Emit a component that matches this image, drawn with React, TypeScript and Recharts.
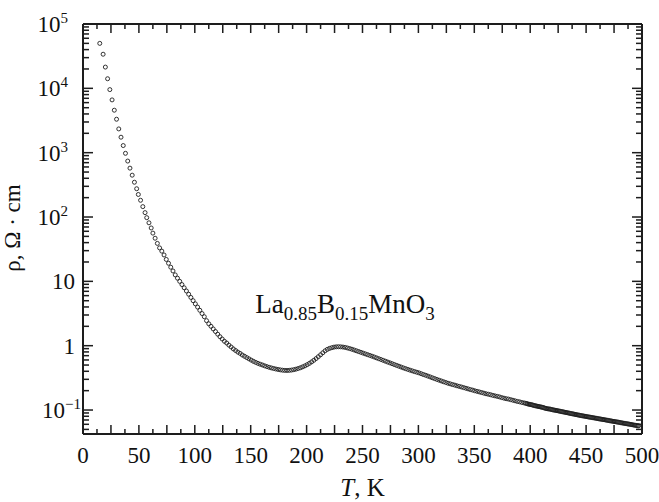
import React from 'react';
import { ScatterChart, Scatter, XAxis, YAxis, ReferenceDot } from 'recharts';

// resistivity of La0.85B0.15MnO3 (T in K, rho in Ohm*cm)
const T_COLD = [15, 18, 20, 22, 24, 26, 28, 30, 32, 34, 36, 38, 40, 42, 44, 46, 48, 49.5, 51.5, 53.5, 55.5, 57, 59, 61, 62.5, 64.5, 66.5, 68.5, 70.5, 72.5, 74.5, 76.5, 78.5, 80.5, 82.5, 84.5, 86.5, 88.5, 90.5, 92.5, 94.5, 96.5, 98.5];
const RHO_COLD = [50000, 33900, 21400, 14100, 9550, 6610, 4570, 3310, 2340, 1740, 1290, 977, 741, 575, 447, 347, 275, 224, 182, 145, 117, 97.7, 81.3, 67.6, 56.2, 46.8, 38.9, 33.1, 29.5, 25.7, 21.9, 19.1, 16.6, 14.5, 12.6, 11.2, 10.0, 8.91, 7.94, 7.08, 6.31, 5.62, 5.01];

const T_TRANS = [100.5, 102.5, 104.5, 106.5, 108.5, 110.5, 112.5, 114.5, 116.5, 118.5, 120.5, 122.5, 124.5, 126.5, 128.5, 130.5, 132.5, 134.5, 136.5, 138.5, 140.5, 142.5, 144.5, 146.5, 148.5, 150.5, 152.5, 154.5, 156.5, 158.5, 160.5, 162.5, 164.5, 166.5, 168.5, 170.5, 172.5, 174.5, 176.5, 178.5, 180.5, 182.5, 184.5, 186.5, 188.5, 190.5, 192.5, 194.5, 196.5, 198.5, 200.5, 202.5, 204.5, 206.5, 208.5, 210.5, 212.5, 214.5, 216.5, 218.5, 220.5, 222.5, 224.5, 226.5, 228.5, 230.5, 232.5, 234.5, 236.5, 238.5, 240.5, 242.5, 244.5, 246.5, 248.5, 250.5, 252.5, 254.5, 256.5, 258.5, 260.5, 262.5, 264.5, 266.5, 268.5, 270.5, 272.5, 274.5, 276.5, 278.5, 280.5, 282.5, 284.5, 286.5, 288.5, 290.5, 292.5, 294.5, 296.5, 298.5];
const RHO_TRANS = [4.47, 3.98, 3.55, 3.16, 2.82, 2.45, 2.19, 2.00, 1.82, 1.66, 1.51, 1.38, 1.27, 1.17, 1.10, 1.02, 0.955, 0.891, 0.841, 0.794, 0.759, 0.716, 0.684, 0.653, 0.624, 0.596, 0.571, 0.550, 0.531, 0.515, 0.501, 0.486, 0.473, 0.461, 0.451, 0.442, 0.434, 0.427, 0.421, 0.416, 0.413, 0.412, 0.414, 0.418, 0.424, 0.432, 0.442, 0.454, 0.469, 0.486, 0.507, 0.531, 0.560, 0.593, 0.631, 0.675, 0.723, 0.776, 0.832, 0.876, 0.908, 0.930, 0.950, 0.960, 0.963, 0.960, 0.952, 0.940, 0.922, 0.902, 0.881, 0.857, 0.834, 0.811, 0.789, 0.767, 0.746, 0.726, 0.706, 0.687, 0.667, 0.647, 0.628, 0.610, 0.592, 0.574, 0.557, 0.541, 0.525, 0.509, 0.494, 0.480, 0.466, 0.452, 0.440, 0.428, 0.417, 0.406, 0.396, 0.387];

const T_WARM = [300.5, 302.5, 304.5, 306.5, 308.5, 310.5, 312.5, 314.5, 316.5, 318.5, 320.5, 322.5, 324.5, 326.5, 328.5, 330.5, 332.5, 334.5, 336.5, 338.5, 340.5, 342.5, 344.5, 346.5, 348.5, 350.5, 352.5, 354.5, 356.5, 358.5, 360.5, 362.5, 364.5, 366.5, 368.5, 370.5, 372.5, 374.5, 376.5, 378.5, 380.5, 382.5, 384.5, 386.5, 388.5, 390.5, 392.5, 394.5];
const RHO_WARM = [0.378, 0.367, 0.356, 0.347, 0.337, 0.327, 0.317, 0.308, 0.299, 0.291, 0.283, 0.275, 0.268, 0.261, 0.255, 0.249, 0.244, 0.238, 0.233, 0.228, 0.223, 0.218, 0.213, 0.208, 0.204, 0.199, 0.195, 0.191, 0.187, 0.183, 0.179, 0.176, 0.173, 0.169, 0.166, 0.163, 0.160, 0.156, 0.153, 0.150, 0.148, 0.145, 0.142, 0.139, 0.136, 0.134, 0.131, 0.129];

const T_HOT = [396, 397, 398, 399, 400, 401, 402, 403, 404, 405, 406, 407, 408, 409, 410, 411, 412, 413, 414, 415, 416, 417, 418, 419, 420, 421, 422, 423, 424, 425, 426, 427, 428, 429, 430, 431, 432, 433, 434, 435, 436, 437, 438, 439, 440, 441, 442, 443, 444, 445, 446, 447, 448, 449, 450, 451, 452, 453, 454, 455, 456, 457, 458, 459, 460, 461, 462, 463, 464, 465, 466, 467, 468, 469, 470, 471, 472, 473, 474, 475, 476, 477, 478, 479, 480, 481, 482, 483, 484, 485, 486, 487, 488, 489, 490, 491, 492, 493, 494, 495, 496, 497];
const RHO_HOT = [0.127, 0.126, 0.124, 0.123, 0.122, 0.121, 0.120, 0.118, 0.117, 0.116, 0.115, 0.114, 0.113, 0.112, 0.111, 0.110, 0.109, 0.107, 0.106, 0.105, 0.104, 0.104, 0.103, 0.102, 0.101, 0.100, 0.0995, 0.0986, 0.0979, 0.0971, 0.0962, 0.0955, 0.0946, 0.0940, 0.0931, 0.0923, 0.0916, 0.0908, 0.0902, 0.0893, 0.0885, 0.0879, 0.0871, 0.0865, 0.0857, 0.0849, 0.0843, 0.0836, 0.0830, 0.0822, 0.0817, 0.0811, 0.0805, 0.0800, 0.0794, 0.0787, 0.0782, 0.0776, 0.0771, 0.0766, 0.0760, 0.0755, 0.0750, 0.0745, 0.0740, 0.0733, 0.0728, 0.0723, 0.0718, 0.0713, 0.0708, 0.0703, 0.0698, 0.0693, 0.0689, 0.0682, 0.0678, 0.0673, 0.0668, 0.0664, 0.0659, 0.0655, 0.0650, 0.0646, 0.0641, 0.0635, 0.0631, 0.0627, 0.0622, 0.0618, 0.0614, 0.0610, 0.0605, 0.0601, 0.0597, 0.0592, 0.0587, 0.0583, 0.0579, 0.0575, 0.0571, 0.0568];

const X_TICKS = [0, 12.5, 25, 37.5, 50, 62.5, 75, 87.5, 100, 112.5, 125, 137.5, 150, 162.5, 175, 187.5, 200, 212.5, 225, 237.5, 250, 262.5, 275, 287.5, 300, 312.5, 325, 337.5, 350, 362.5, 375, 387.5, 400, 412.5, 425, 437.5, 450, 462.5, 475, 487.5, 500];
const X_LABELS = [0, 50, 100, 150, 200, 250, 300, 350, 400, 450, 500];
const Y_TICKS = [
  0.05, 0.06, 0.07, 0.08, 0.09, 0.1, 0.2, 0.3, 0.4, 0.5, 0.6, 0.7, 0.8, 0.9,
  1, 2, 3, 4, 5, 6, 7, 8, 9, 10, 20, 30, 40, 50, 60, 70, 80, 90,
  100, 200, 300, 400, 500, 600, 700, 800, 900, 1000, 2000, 3000, 4000, 5000, 6000, 7000, 8000, 9000,
  10000, 20000, 30000, 40000, 50000, 60000, 70000, 80000, 90000, 100000,
];
const Y_LABELS = [0.1, 1, 10, 100, 1000, 10000, 100000];
const Y_EXP: Record<number, string> = { 0.1: '\u22121', 100: '2', 1000: '3', 10000: '4', 100000: '5' };
const X_DOMAIN = [0, 500];
const Y_DOMAIN = [0.0424, 100000];

const INK = '#1d1d1d';
const FONT = '"Liberation Serif", "Times New Roman", serif';

const zip = (t: number[], r: number[]) => t.map((T, i) => ({ T, rho: r[i] }));
const points = [
  ...zip(T_COLD, RHO_COLD),
  ...zip(T_TRANS, RHO_TRANS),
  ...zip(T_WARM, RHO_WARM),
  ...zip(T_HOT, RHO_HOT),
];

// inward frame ticks, placed through the chart's own scales
const bottomMarks = X_TICKS.map((T) => ({ T, rho: Y_DOMAIN[0], side: 'b' }));
const topMarks = X_TICKS.map((T) => ({ T, rho: Y_DOMAIN[1], side: 't' }));
const leftMarks = Y_TICKS.map((rho) => ({ T: X_DOMAIN[0], rho, side: 'l' }));
const rightMarks = Y_TICKS.map((rho) => ({ T: X_DOMAIN[1], rho, side: 'r' }));
const tickMarks = [...bottomMarks, ...topMarks, ...leftMarks, ...rightMarks];

const TickMark = (p: any) => {
  const d = p.payload || p;
  const cx = Number(p.cx);
  const cy = Number(p.cy);
  if (d.side === 'b' || d.side === 't') {
    const len = d.T % 25 === 0 ? 9 : 5;
    const y = d.side === 'b' ? cy - len : cy;
    return <rect x={cx - 0.75} y={y} width={1.5} height={len} fill={INK} stroke="none" />;
  }
  const len = Y_LABELS.includes(d.rho) ? 10 : 6;
  const x = d.side === 'l' ? cx : cx - len;
  return <rect x={x} y={cy - 0.75} width={len} height={1.5} fill={INK} stroke="none" />;
};

const Ring = (p: any) => (
  <circle cx={p.cx} cy={p.cy} r={2} fill="none" stroke={INK} strokeWidth={0.9} />
);

function BottomLabel(p: any) {
  const v = p.payload.value;
  if (!X_LABELS.includes(v)) return <g />;
  return (
    <text x={p.x} y={463} textAnchor="middle" fontSize={23} fill="#111" fontFamily={FONT}>
      {v}
    </text>
  );
}

function LeftLabel(p: any) {
  const v = p.payload.value;
  if (!Y_LABELS.includes(v)) return <g />;
  const exp = Y_EXP[v];
  let dx = 8;
  if (exp) dx = v === 0.1 ? 2 : 15;
  return (
    <text x={83 - dx} y={p.y + 8} textAnchor="end" fontSize={23} fill="#111" fontFamily={FONT}>
      {v >= 10 || v === 0.1 ? '10' : '1'}
      {exp && (
        <tspan dy={-9} fontSize={15}>
          {exp}
        </tspan>
      )}
    </text>
  );
}

const Formula = (p: any) => {
  const vb = p.viewBox;
  return (
    <text x={vb.x} y={vb.y} fontSize={27} fill="#111" fontFamily={FONT}>
      La<tspan dy={7} fontSize={19}>0.85</tspan>
      <tspan dy={-7}>B</tspan>
      <tspan dy={7} fontSize={19}>0.15</tspan>
      <tspan dy={-7}>MnO</tspan>
      <tspan dy={7} fontSize={19}>3</tspan>
    </text>
  );
};

export default function App() {
  const axisLine = { stroke: INK, strokeWidth: 2 };
  return (
    <div style={{ position: 'absolute', left: 0, top: 0, width: 659, height: 502, background: '#fff' }}>
      <ScatterChart width={659} height={502} margin={{ top: 14, right: 0, bottom: 0, left: 0 }}>
        <XAxis xAxisId="x" dataKey="T" type="number" domain={X_DOMAIN} ticks={X_TICKS} interval={0}
          height={68} tickSize={0} tickMargin={0} tickLine={false} axisLine={axisLine} tick={BottomLabel} />
        <XAxis xAxisId="top" orientation="top" type="number" domain={X_DOMAIN} height={10} tickLine={false} tick={false} axisLine={axisLine} />
        <YAxis yAxisId="y" dataKey="rho" type="number" scale="log" domain={Y_DOMAIN} ticks={Y_TICKS}
          interval={0} width={83} tickSize={0} tickMargin={0} tickLine={false} axisLine={axisLine} tick={LeftLabel} />
        <YAxis yAxisId="right" orientation="right" type="number" scale="log" domain={Y_DOMAIN} width={17} tickLine={false} tick={false} axisLine={axisLine} />
        <Scatter xAxisId="x" yAxisId="y" data={tickMarks} dataKey="rho" shape={TickMark} isAnimationActive={false} />
        <Scatter xAxisId="x" yAxisId="y" data={points} dataKey="rho" shape={Ring} isAnimationActive={false} />
        <ReferenceDot xAxisId="x" yAxisId="y" x={154} y={3.2} r={0.01} fill="none" stroke="none" ifOverflow="visible" label={<Formula />} />
      </ScatterChart>
      <svg width={659} height={502} style={{ position: 'absolute', left: 0, top: 0, pointerEvents: 'none' }}>
        <text x={362.5} y={496} textAnchor="middle" fontSize={25} fill="#111" fontFamily={FONT}>
          <tspan fontStyle="italic">T</tspan>, K
        </text>
        <text x={20} y={228} transform="rotate(-90, 20, 228)" textAnchor="middle" fontSize={23} fill="#111" fontFamily={FONT}>
          ρ, Ω · cm
        </text>
      </svg>
    </div>
  );
}
